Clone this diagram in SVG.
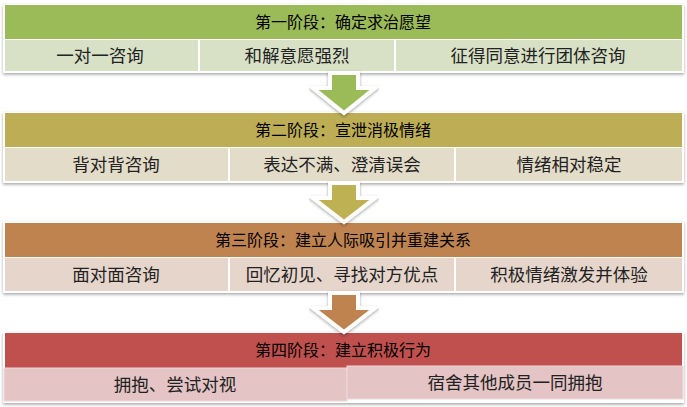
<svg xmlns="http://www.w3.org/2000/svg" width="687" height="407" viewBox="0 0 687 407">
<defs>
<style>
.t{font-family:"Liberation Sans","Noto Sans CJK SC",sans-serif;font-size:16px;fill:#000;text-anchor:middle}
.s{font-family:"Liberation Sans","Noto Sans CJK SC",sans-serif;font-size:17.5px;fill:#222;text-anchor:middle}
.frame{fill:#fff;filter:url(#sh)}
.arr{stroke:#fff;stroke-width:4;stroke-linejoin:miter;filter:url(#sh)}
</style>
<filter id="sh" x="-5%" y="-10%" width="110%" height="130%"><feDropShadow dx="0" dy="1.5" stdDeviation="1.5" flood-color="#000" flood-opacity="0.35"/></filter>
</defs>
<g id="stage1">
<rect class="frame" x="3" y="4" width="681" height="69"/>
<rect x="5" y="5" width="677" height="34" fill="#9BBB59"/>
<text class="t" x="343" y="28">第一阶段：确定求治愿望</text>
<rect x="5" y="40" width="193" height="31" fill="#D8E1C6"/>
<rect x="200" y="40" width="194" height="31" fill="#D8E1C6"/>
<rect x="396" y="40" width="286" height="31" fill="#D8E1C6"/>
<text class="s" x="100" y="62">一对一咨询</text>
<text class="s" x="297" y="62">和解意愿强烈</text>
<text class="s" x="538" y="62">征得同意进行团体咨询</text>
</g>
<g id="stage2">
<rect class="frame" x="3" y="112" width="681" height="71"/>
<rect x="5" y="113" width="677" height="34" fill="#BDAE55"/>
<text class="t" x="343" y="136">第二阶段：宣泄消极情绪</text>
<rect x="5" y="148" width="223" height="33" fill="#E2DCC9"/>
<rect x="230" y="148" width="224" height="33" fill="#E2DCC9"/>
<rect x="456" y="148" width="226" height="33" fill="#E2DCC9"/>
<text class="s" x="116" y="171">背对背咨询</text>
<text class="s" x="342" y="171">表达不满、澄清误会</text>
<text class="s" x="569" y="171">情绪相对稳定</text>
</g>
<g id="stage3">
<rect class="frame" x="3" y="222" width="681" height="71"/>
<rect x="5" y="223" width="677" height="34" fill="#BF8350"/>
<text class="t" x="343" y="246">第三阶段：建立人际吸引并重建关系</text>
<rect x="5" y="258" width="223" height="33" fill="#E6D5CB"/>
<rect x="230" y="258" width="224" height="33" fill="#E6D5CB"/>
<rect x="456" y="258" width="226" height="33" fill="#E6D5CB"/>
<text class="s" x="116" y="281">面对面咨询</text>
<text class="s" x="342" y="281">回忆初见、寻找对方优点</text>
<text class="s" x="569" y="281">积极情绪激发并体验</text>
</g>
<g id="stage4">
<rect class="frame" x="3" y="332" width="681" height="71"/>
<rect x="5" y="333" width="677" height="35" fill="#C0504D"/>
<text class="t" x="343" y="356">第四阶段：建立积极行为</text>
<rect x="4" y="368" width="343" height="33" fill="#E4C4C5" stroke="#eed8d8"/>
<rect x="347" y="366" width="336" height="33" fill="#E4C4C5" stroke="#eed8d8"/>
<text class="s" x="175" y="391">拥抱、尝试对视</text>
<text class="s" x="515" y="389">宿舍其他成员一同拥抱</text>
</g>
<g id="connectors">
<polygon class="arr" fill="#9BBB59" points="330,73 358,73 358,88 375,88 344,113 313,88 330,88"/>
<polygon class="arr" fill="#BDB152" points="330,183 358,183 358,198 375,198 344,222 313,198 330,198"/>
<polygon class="arr" fill="#BF8350" points="330,293 358,293 358,308 375,308 344,332 313,308 330,308"/>
</g>
</svg>
